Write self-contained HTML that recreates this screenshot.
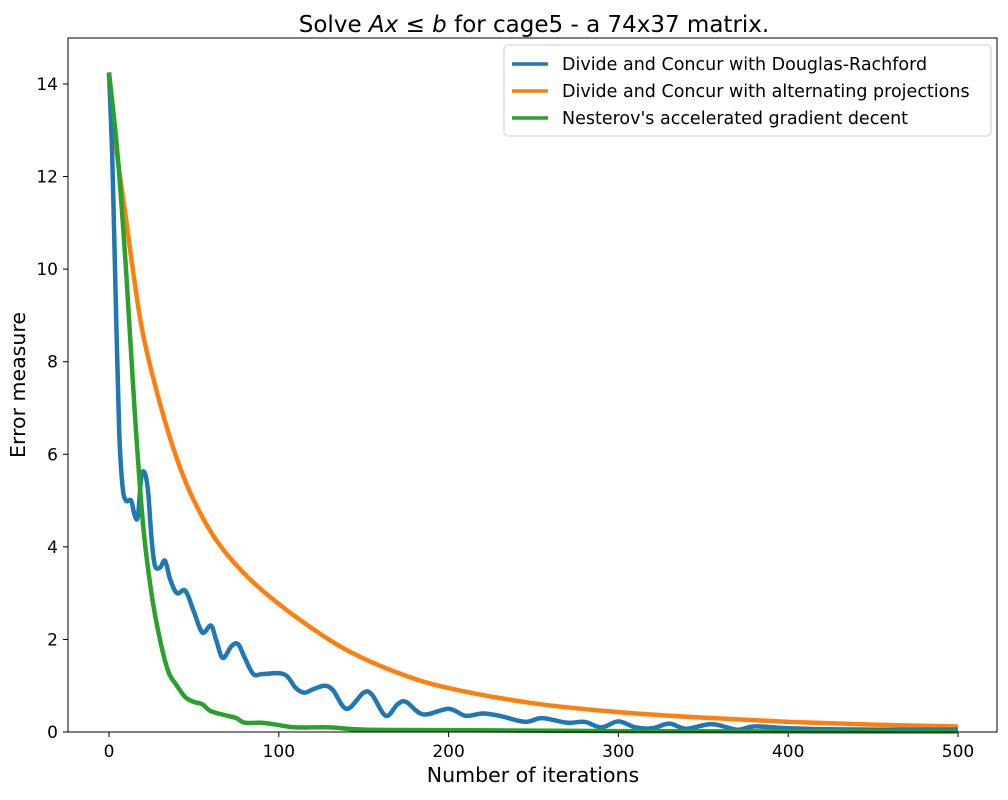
<!DOCTYPE html>
<html><head><meta charset="utf-8"><style>
body{margin:0;background:#fff;font-family:"Liberation Sans","DejaVu Sans",sans-serif}
svg text{font-family:"DejaVu Sans","Liberation Sans",sans-serif}
</style></head><body>
<svg id="chart" width="1008" height="795" xmlns="http://www.w3.org/2000/svg">
<rect width="1008" height="795" fill="#fff"/>
<text x="534" y="32" font-size="23" text-anchor="middle">Solve <tspan font-style="italic">Ax</tspan> ≤ <tspan font-style="italic">b</tspan> for cage5 - a 74x37 matrix.</text>
<g id="plot"></g>
<rect x="68" y="38" width="929" height="694" fill="none" stroke="#000" stroke-width="1"/>
<text x="533" y="782" font-size="20.5" text-anchor="middle">Number of iterations</text>
<text transform="translate(25,385) rotate(-90)" font-size="20.5" text-anchor="middle">Error measure</text>
<g>
<rect x="504" y="45" width="487" height="91" rx="4" fill="#fff" stroke="#ccc"/>
<line x1="512" y1="64" x2="548" y2="64" stroke="#1f77b4" stroke-width="3.5"/>
<text x="562" y="70" font-size="17.5">Divide and Concur with Douglas-Rachford</text>
<line x1="512" y1="91" x2="548" y2="91" stroke="#ff7f0e" stroke-width="3.5"/>
<text x="562" y="97" font-size="17.5">Divide and Concur with alternating projections</text>
<line x1="512" y1="118" x2="548" y2="118" stroke="#2ca02c" stroke-width="3.5"/>
<text x="562" y="124" font-size="17.5">Nesterov's accelerated gradient decent</text>
</g>
</svg>
<script>
const xTicks=[0,100,200,300,400,500];
const yTicks=[0,2,4,6,8,10,12,14];
const blueX=[0,2,4,6,8,10,13,15,17,19,21,23,25,27,30,33,36,40,45,50,55,60,63,67,72,76,80,85,90,100,105,110,115,120,127,132,140,150,155,163,170,175,185,200,210,220,230,245,255,270,280,290,300,310,320,330,340,355,370,380,400,420,450,500];
const blueY=[14.25,12.3,9.3,6.5,5.3,5.0,5.0,4.7,4.65,5.5,5.6,5.2,4.2,3.6,3.55,3.7,3.3,3.0,3.05,2.6,2.15,2.3,2.0,1.6,1.85,1.9,1.6,1.25,1.25,1.27,1.2,0.95,0.85,0.92,1.0,0.9,0.5,0.85,0.8,0.35,0.6,0.65,0.38,0.5,0.35,0.4,0.35,0.22,0.3,0.2,0.22,0.1,0.23,0.1,0.08,0.18,0.07,0.17,0.05,0.12,0.08,0.06,0.05,0.05];
const orangeX=[0,3,6.5,10,14,20,30,40,50,64,83,107,138,170,200,250,300,350,400,450,500];
const orangeY=[14.25,13.0,12.0,11.1,10.0,8.6,7.1,5.9,5.0,4.1,3.3,2.57,1.81,1.28,0.95,0.62,0.43,0.31,0.22,0.16,0.12];
const greenX=[0,5,10,15,20,25,30,35,40,45,50,55,60,70,75,80,90,100,110,130,150,200,300,500];
const greenY=[14.25,12.5,10.0,7.0,4.5,3.0,2.0,1.3,1.0,0.75,0.65,0.6,0.45,0.35,0.3,0.2,0.2,0.15,0.1,0.1,0.05,0.04,0.02,0.01];
const NS='http://www.w3.org/2000/svg';
const sx=v=>109+v*(958-109)/500;
const sy=v=>732-v*(732-84)/14;
const g=document.getElementById('plot');
function mk(t,a){const e=document.createElementNS(NS,t);for(const k in a)e.setAttribute(k,a[k]);g.appendChild(e);return e;}
xTicks.forEach(t=>{
 const l=mk('line',{x1:sx(t),x2:sx(t),y1:732,y2:737,stroke:'#000'});
 
 
 const tx=mk('text',{x:sx(t),y:757,'font-size':17,'text-anchor':'middle'});tx.textContent=t;
 
 
});
yTicks.forEach(t=>{
 const l=mk('line',{x1:63,x2:68,y1:sy(t),y2:sy(t),stroke:'#000'});
 
 
 const tx=mk('text',{x:58,y:sy(t)+6,'font-size':17,'text-anchor':'end'});tx.textContent=t;
 
 
});
function series(xs,ys,c,name){
 const P=xs.map((x,i)=>[sx(x),sy(ys[i])]);
 let d='M'+P[0][0]+','+P[0][1];
 for(let i=0;i<P.length-1;i++){
  const p0=P[Math.max(0,i-1)],p1=P[i],p2=P[i+1],p3=P[Math.min(P.length-1,i+2)];
  const c1=[p1[0]+(p2[0]-p0[0])/6,p1[1]+(p2[1]-p0[1])/6];
  const c2=[p2[0]-(p3[0]-p1[0])/6,p2[1]-(p3[1]-p1[1])/6];
  d+=' C'+c1+' '+c2+' '+p2;
 }
 const p=mk('path',{d:d,fill:'none',stroke:c,'stroke-width':4.5,'stroke-linejoin':'round'});
 
 
}
series(orangeX,orangeY,'#ff7f0e','alternating-projections-line');
series(blueX,blueY,'#1f77b4','douglas-rachford-line');
series(greenX,greenY,'#2ca02c','nesterov-line');
</script>
</body></html>
